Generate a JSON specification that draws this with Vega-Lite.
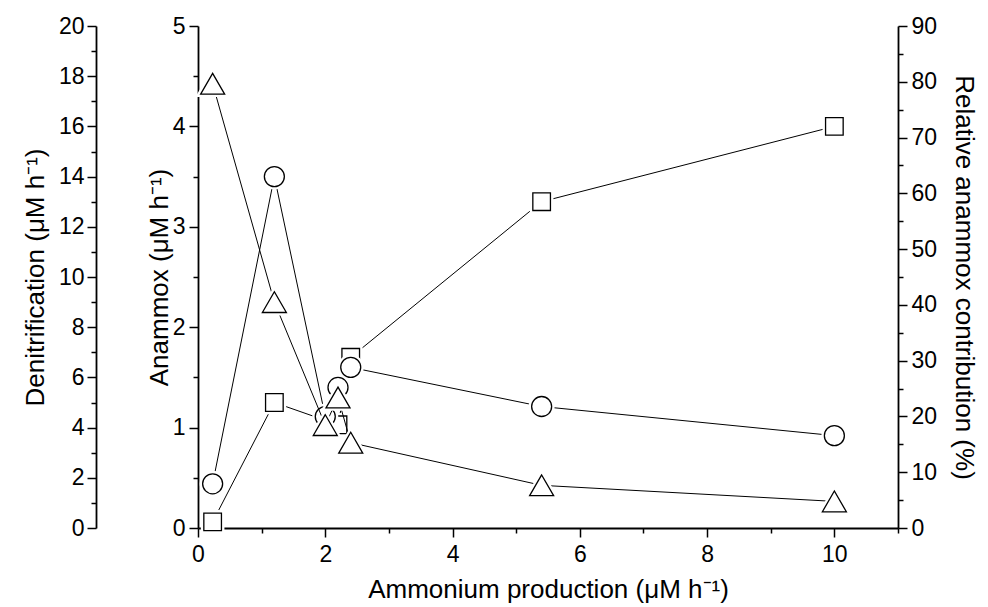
{
  "$schema": "https://vega.github.io/schema/vega-lite/v6.json",
  "width": 700,
  "height": 502,
  "autosize": {"type": "none"},
  "padding": {"left": 198, "top": 26, "right": 90, "bottom": 79},
  "background": "white",
  "config": {
    "view": {"stroke": null},
    "axis": {
      "grid": false,
      "labelFont": "Liberation Sans",
      "titleFont": "Liberation Sans",
      "labelFontSize": 23,
      "titleFontSize": 26,
      "titleFontWeight": "normal",
      "labelColor": "black",
      "titleColor": "black",
      "domainColor": "black",
      "tickColor": "black",
      "domainWidth": 1.8,
      "tickWidth": 1.5,
      "labelOverlap": false,
      "labelBound": false,
      "labelFlush": false,
      "format": "~g"
    }
  },
  "datasets": {
    "anammox": [
      {"x": 0.23, "y": 0.44},
      {"x": 1.2, "y": 3.5},
      {"x": 2.0, "y": 1.11},
      {"x": 2.2, "y": 1.4},
      {"x": 2.4, "y": 1.6},
      {"x": 5.4, "y": 1.21},
      {"x": 10, "y": 0.92}
    ],
    "denit": [
      {"x": 0.23, "y": 17.7},
      {"x": 1.2, "y": 9.0},
      {"x": 2.0, "y": 4.1},
      {"x": 2.2, "y": 5.2},
      {"x": 2.4, "y": 3.4},
      {"x": 5.4, "y": 1.7},
      {"x": 10, "y": 1.06}
    ],
    "rel": [
      {"x": 0.23, "y": 1.1},
      {"x": 1.2, "y": 22.5},
      {"x": 2.2, "y": 18.5},
      {"x": 2.4, "y": 30.6},
      {"x": 5.4, "y": 58.5},
      {"x": 10, "y": 72}
    ]
  },
  "layer": [
    {
      "data": {"name": "rel"},
      "encoding": {
        "x": {"field": "x", "type": "quantitative",
          "scale": {"domain": [0, 11], "nice": false, "zero": false},
          "axis": {"title": "Ammonium production (μM h⁻¹)", "values": [0,1,2,3,4,5,6,7,8,9,10,11],
            "labelExpr": "(datum.value % 2 === 0 && datum.value <= 10) ? datum.label : ''",
            "tickSize": {"condition": {"test": "datum.value % 2 !== 0", "value": 5}, "value": 9},
            "labelPadding": 6, "titlePadding": 10}},
        "y": {"field": "y", "type": "quantitative",
          "scale": {"domain": [0, 90], "nice": false},
          "axis": {"orient": "right", "title": "Relative anammox contribution (%)",
            "values": [0,5,10,15,20,25,30,35,40,45,50,55,60,65,70,75,80,85,90],
            "labelExpr": "datum.value % 10 === 0 ? datum.label : ''",
            "tickSize": {"condition": {"test": "datum.value % 10 !== 0", "value": 5}, "value": 9},
            "labelPadding": 4, "titlePadding": 14}}
      },
      "layer": [
        {"mark": {"type": "line", "color": "black", "strokeWidth": 1}},
        {"mark": {"type": "point", "shape": "square", "size": 310, "filled": false, "stroke": "white", "strokeWidth": 6, "opacity": 1}},
        {"mark": {"type": "point", "shape": "square", "size": 310, "filled": true, "fill": "white", "stroke": "black", "strokeWidth": 1.3, "opacity": 1}}
      ]
    },
    {
      "data": {"name": "anammox"},
      "encoding": {
        "x": {"field": "x", "type": "quantitative",
          "scale": {"domain": [0, 11], "nice": false, "zero": false},
          "axis": {"title": "Ammonium production (μM h⁻¹)", "values": [0,1,2,3,4,5,6,7,8,9,10,11],
            "labelExpr": "(datum.value % 2 === 0 && datum.value <= 10) ? datum.label : ''",
            "tickSize": {"condition": {"test": "datum.value % 2 !== 0", "value": 5}, "value": 9},
            "labelPadding": 6, "titlePadding": 10}},
        "y": {"field": "y", "type": "quantitative",
          "scale": {"domain": [0, 5], "nice": false},
          "axis": {"orient": "left", "title": "Anammox (μM h⁻¹)",
            "values": [0,0.5,1,1.5,2,2.5,3,3.5,4,4.5,5],
            "labelExpr": "datum.value % 1 === 0 ? datum.label : ''",
            "tickSize": {"condition": {"test": "datum.value % 1 !== 0", "value": 5}, "value": 9},
            "labelPadding": 4, "titlePadding": 0}}
      },
      "layer": [
        {"mark": {"type": "line", "color": "black", "strokeWidth": 1}},
        {"mark": {"type": "point", "shape": "circle", "size": 400, "filled": false, "stroke": "white", "strokeWidth": 6, "opacity": 1}},
        {"mark": {"type": "point", "shape": "circle", "size": 400, "filled": true, "fill": "white", "stroke": "black", "strokeWidth": 1.3, "opacity": 1}}
      ]
    },
    {
      "data": {"name": "denit"},
      "encoding": {
        "x": {"field": "x", "type": "quantitative",
          "scale": {"domain": [0, 11], "nice": false, "zero": false},
          "axis": {"title": "Ammonium production (μM h⁻¹)", "values": [0,1,2,3,4,5,6,7,8,9,10,11],
            "labelExpr": "(datum.value % 2 === 0 && datum.value <= 10) ? datum.label : ''",
            "tickSize": {"condition": {"test": "datum.value % 2 !== 0", "value": 5}, "value": 9},
            "labelPadding": 6, "titlePadding": 10}},
        "y": {"field": "y", "type": "quantitative",
          "scale": {"domain": [0, 20], "nice": false},
          "axis": {"orient": "left", "offset": 102, "title": "Denitrification (μM h⁻¹)",
            "values": [0,1,2,3,4,5,6,7,8,9,10,11,12,13,14,15,16,17,18,19,20],
            "labelExpr": "datum.value % 2 === 0 ? datum.label : ''",
            "tickSize": {"condition": {"test": "datum.value % 2 !== 0", "value": 5}, "value": 9},
            "labelPadding": 3, "titlePadding": 10}}
      },
      "layer": [
        {"mark": {"type": "line", "color": "black", "strokeWidth": 1}},
        {"mark": {"type": "point", "shape": "triangle-up", "size": 576, "filled": false, "stroke": "white", "strokeWidth": 6, "opacity": 1}},
        {"mark": {"type": "point", "shape": "triangle-up", "size": 576, "filled": true, "fill": "white", "stroke": "black", "strokeWidth": 1.3, "opacity": 1}}
      ]
    }
  ],
  "resolve": {"scale": {"y": "independent"}}
}
